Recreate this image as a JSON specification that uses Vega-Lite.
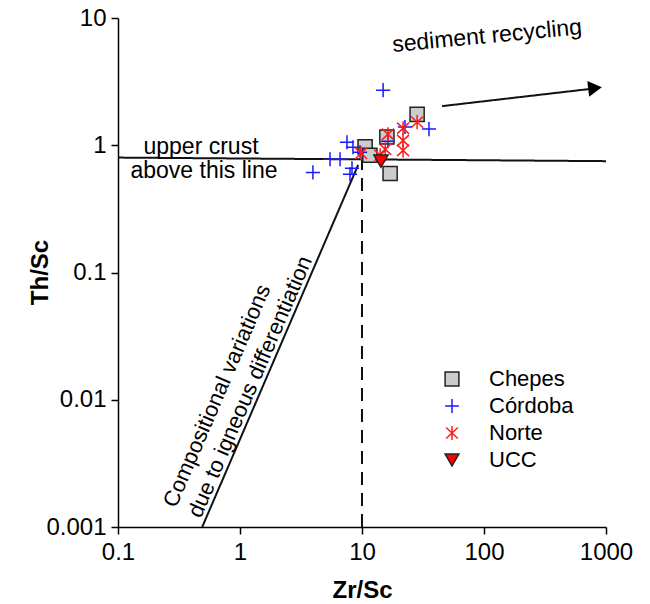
{
  "$schema": "https://vega.github.io/schema/vega-lite/v6.json",
  "width": 488,
  "height": 509,
  "autosize": "none",
  "padding": {"left": 118, "top": 18, "right": 44, "bottom": 77},
  "background": "white",
  "config": {
    "view": {"stroke": null},
    "font": "Liberation Sans",
    "axis": {
      "grid": false,
      "domainColor": "black",
      "domainWidth": 1.5,
      "tickColor": "black",
      "tickWidth": 1.5,
      "tickSize": 7,
      "labelFont": "Liberation Sans",
      "labelFontSize": 24,
      "labelColor": "black",
      "titleFont": "Liberation Sans",
      "titleFontSize": 24,
      "titleFontWeight": "bold",
      "titleColor": "black"
    }
  },
  "encoding": {
    "x": {
      "field": "x", "type": "quantitative",
      "scale": {"type": "log", "domain": [0.1, 1000], "nice": false},
      "axis": {"values": [0.1, 1, 10, 100, 1000], "format": "~g", "title": "Zr/Sc", "labelPadding": 6, "titleBaseline": "middle", "titleY": 63, "labelFlush": false}
    },
    "y": {
      "field": "y", "type": "quantitative",
      "scale": {"type": "log", "domain": [0.001, 10], "nice": false},
      "axis": {"values": [0.001, 0.01, 0.1, 1, 10], "format": "~g", "title": "Th/Sc", "labelPadding": 5, "titleX": -78, "titleY": 254, "titleBaseline": "middle", "titleAlign": "center", "labelFlush": false}
    }
  },
  "layer": [
    {
      "data": {"values": [
        {"id": "uc", "style": "solid", "x": 0.1, "y": 0.80},
        {"id": "uc", "style": "solid", "x": 1000, "y": 0.75},
        {"id": "diag", "style": "solid", "x": 0.49, "y": 0.001},
        {"id": "diag", "style": "solid", "x": 9.3, "y": 0.70},
        {"id": "arrow", "style": "solid", "x": 45.3, "y": 2.03},
        {"id": "arrow", "style": "solid", "x": 790, "y": 2.79},
        {"id": "zr", "style": "dashed", "x": 10, "y": 0.001},
        {"id": "zr", "style": "dashed", "x": 10, "y": 0.78}
      ]},
      "mark": {"type": "line", "color": "#111", "strokeWidth": 2},
      "encoding": {
        "detail": {"field": "id"},
        "strokeDash": {"field": "style", "type": "nominal", "scale": {"domain": ["solid", "dashed"], "range": [[1, 0], [13, 8]]}, "legend": null}
      }
    },
    {
      "data": {"values": [{"x": 813, "y": 2.81}]},
      "mark": {"type": "point", "shape": "triangle-right", "angle": -6.7, "size": 250, "filled": true, "color": "black", "opacity": 1}
    },
    {
      "data": {"values": [
        {"series": "Chepes", "x": 28.3, "y": 1.75},
        {"series": "Chepes", "x": 10.6, "y": 0.97},
        {"series": "Chepes", "x": 16.0, "y": 1.16},
        {"series": "Chepes", "x": 11.6, "y": 0.834},
        {"series": "Chepes", "x": 17.0, "y": 0.60},
        {"series": "Córdoba", "x": 14.9, "y": 2.71},
        {"series": "Córdoba", "x": 7.53, "y": 1.056},
        {"series": "Córdoba", "x": 8.43, "y": 0.964},
        {"series": "Córdoba", "x": 5.47, "y": 0.776},
        {"series": "Córdoba", "x": 6.61, "y": 0.776},
        {"series": "Córdoba", "x": 3.96, "y": 0.612},
        {"series": "Córdoba", "x": 8.28, "y": 0.659},
        {"series": "Córdoba", "x": 7.97, "y": 0.591},
        {"series": "Córdoba", "x": 22.5, "y": 1.39},
        {"series": "Córdoba", "x": 35.4, "y": 1.34},
        {"series": "Córdoba", "x": 16.3, "y": 1.075},
        {"series": "Córdoba", "x": 9.64, "y": 0.88},
        {"series": "Norte", "x": 28.3, "y": 1.52},
        {"series": "Norte", "x": 21.7, "y": 1.36},
        {"series": "Norte", "x": 16.3, "y": 1.22},
        {"series": "Norte", "x": 21.7, "y": 1.09},
        {"series": "Norte", "x": 21.7, "y": 0.91},
        {"series": "Norte", "x": 9.82, "y": 0.865},
        {"series": "Norte", "x": 15.5, "y": 0.93},
        {"series": "Norte", "x": 14.1, "y": 0.834},
        {"series": "UCC", "x": 14.3, "y": 0.75}
      ]},
      "mark": {"type": "point", "size": 200, "strokeWidth": 1.5, "opacity": 1},
      "encoding": {
        "shape": {"field": "series", "type": "nominal",
          "scale": {"domain": ["Chepes", "Córdoba", "Norte", "UCC"], "range": ["square", "M-1,0H1M0,-1V1", "M-0.85,-0.8L0.85,0.8M-0.85,0.8L0.85,-0.8M0,-1V1", "triangle-down"]},
          "legend": {"title": null, "orient": "none", "legendX": 323, "legendY": 350, "labelFontSize": 22, "labelFont": "Liberation Sans", "labelColor": "black", "symbolSize": 190, "symbolStrokeWidth": 1.5, "rowPadding": 5, "labelOffset": 26, "symbolOpacity": 1}},
        "fill": {"field": "series", "type": "nominal",
          "scale": {"domain": ["Chepes", "Córdoba", "Norte", "UCC"], "range": ["#cccccc", "transparent", "transparent", "#ff0000"]}},
        "stroke": {"field": "series", "type": "nominal",
          "scale": {"domain": ["Chepes", "Córdoba", "Norte", "UCC"], "range": ["#222222", "#1a1aff", "#ff1a1a", "#222222"]}}
      }
    },
    {
      "data": {"values": [
        {"x": 0.479, "y": 0.964, "label": "upper crust"},
        {"x": 0.507, "y": 0.624, "label": "above this line"}
      ]},
      "mark": {"type": "text", "fontSize": 23, "font": "Liberation Sans", "color": "black", "align": "center", "baseline": "middle"},
      "encoding": {"text": {"field": "label"}}
    },
    {
      "data": {"values": [{"x": 106, "y": 7.2, "label": "sediment recycling"}]},
      "mark": {"type": "text", "fontSize": 23, "font": "Liberation Sans", "color": "black", "align": "center", "baseline": "middle", "angle": -5.4},
      "encoding": {"text": {"field": "label"}}
    },
    {
      "data": {"values": [
        {"x": 0.647, "y": 0.01074, "label": "Compositional variations"},
        {"x": 1.21, "y": 0.01265, "label": "due to igneous differentiation"}
      ]},
      "mark": {"type": "text", "fontSize": 22, "font": "Liberation Sans", "color": "black", "align": "center", "baseline": "middle", "angle": -66.7},
      "encoding": {"text": {"field": "label"}}
    }
  ]
}
